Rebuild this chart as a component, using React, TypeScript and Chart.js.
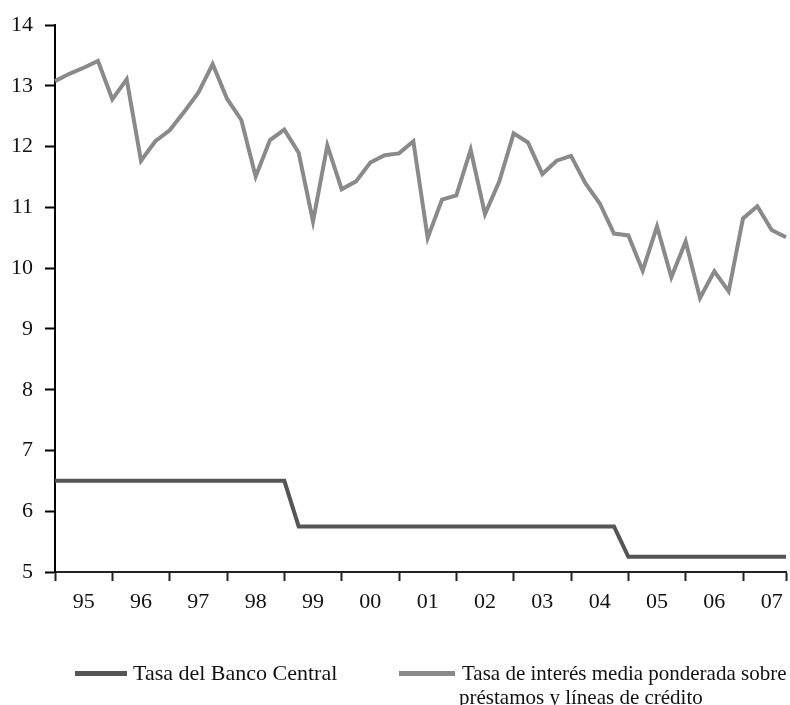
import React, { useEffect, useRef } from "react";
import { Chart, registerables } from "chart.js";

Chart.register(...registerables);

const years: string[] = ["95", "96", "97", "98", "99", "00", "01", "02", "03", "04", "05", "06", "07"];
const quarters: string[] = ["I", "II", "III", "IV"];
const periodLabels: string[] = years.flatMap((y) => quarters.map((q) => `${q}-${y}`));

const bancoCentral: number[] = [
  6.5, 6.5, 6.5, 6.5, 6.5, 6.5, 6.5, 6.5, 6.5, 6.5, 6.5, 6.5, 6.5, 6.5, 6.5, 6.5, 6.5,
  5.75, 5.75, 5.75, 5.75, 5.75, 5.75, 5.75, 5.75, 5.75, 5.75, 5.75, 5.75, 5.75, 5.75, 5.75,
  5.75, 5.75, 5.75, 5.75, 5.75, 5.75, 5.75, 5.75,
  5.25, 5.25, 5.25, 5.25, 5.25, 5.25, 5.25, 5.25, 5.25, 5.25, 5.25, 5.25,
];

const tasaMedia: number[] = [
  13.08, 13.2, 13.3, 13.41, 12.78, 13.11, 11.77, 12.09, 12.27, 12.57, 12.89, 13.36,
  12.79, 12.44, 11.51, 12.11, 12.28, 11.9, 10.77, 12.02, 11.3, 11.43, 11.74, 11.86,
  11.89, 12.09, 10.5, 11.13, 11.2, 11.95, 10.89, 11.43, 12.22, 12.07, 11.55, 11.77,
  11.85, 11.4, 11.07, 10.57, 10.54, 9.96, 10.69, 9.85, 10.44, 9.51, 9.95, 9.62,
  10.82, 11.02, 10.63, 10.51,
];

const legendNames: string[] = [
  "Tasa del Banco Central",
  "Tasa de interés media ponderada sobre",
  "préstamos y líneas de crédito",
];

const DARK = "#555555";
const GRAY = "#8a8a8a";
const FONT = "'Liberation Serif', 'Times New Roman', serif";

export default function App() {
  const canvasRef = useRef<HTMLCanvasElement | null>(null);

  useEffect(() => {
    document.body.style.margin = "0";
    const canvas = canvasRef.current;
    if (!canvas) return;
    const chart = new Chart(canvas, {
      type: "line",
      data: {
        labels: periodLabels,
        datasets: [
          {
            label: legendNames[0],
            data: bancoCentral,
            borderColor: DARK,
            borderWidth: 4,
            pointRadius: 0,
            tension: 0,
            fill: false,
          },
          {
            label: legendNames[1] + " " + legendNames[2],
            data: tasaMedia,
            borderColor: GRAY,
            borderWidth: 4,
            pointRadius: 0,
            tension: 0,
            fill: false,
          },
        ],
      },
      options: {
        animation: false,
        responsive: false,
        maintainAspectRatio: false,
        layout: { padding: { top: 23, right: 0, left: 0, bottom: 0 } },
        plugins: {
          legend: { display: false },
          tooltip: { enabled: false },
        },
        scales: {
          x: {
            type: "category",
            offset: false,
            afterFit: (scale: any) => {
              scale.height = 133;
              scale.paddingRight = 4;
            },
            border: { display: true, color: "#222", width: 2 },
            grid: {
              display: true,
              drawOnChartArea: false,
              drawTicks: true,
              tickLength: 9,
              offset: false,
              tickWidth: 2,
              tickColor: (ctx: any) =>
                ctx.index % 4 === 0 || ctx.index === periodLabels.length - 1 ? "#222" : "rgba(0,0,0,0)",
            },
            ticks: {
              autoSkip: false,
              maxRotation: 0,
              minRotation: 0,
              padding: 8,
              color: "#111",
              font: { family: FONT, size: 22 },
              callback: (_v: any, index: number) =>
                index % 4 === 2 ? years[Math.floor(index / 4)] : "",
            },
          },
          y: {
            min: 5,
            max: 14,
            afterFit: (scale: any) => {
              scale.width = 55;
            },
            border: { display: true, color: "#000", width: 2 },
            grid: {
              display: true,
              drawOnChartArea: false,
              drawTicks: true,
              tickLength: 10,
              tickWidth: 2,
              tickColor: "#000",
            },
            ticks: {
              stepSize: 1,
              padding: 12,
              color: "#111",
              font: { family: FONT, size: 22 },
            },
          },
        },
      },
    });
    return () => chart.destroy();
  }, []);

  const textStyle: React.CSSProperties = {
    position: "absolute",
    fontFamily: FONT,
    fontSize: 22,
    color: "#111",
    whiteSpace: "nowrap",
    lineHeight: "24px",
  };

  return (
    <div style={{ position: "relative", width: 790, height: 705 }}>
      <canvas ref={canvasRef} width={790} height={705} style={{ display: "block" }} />
      <div style={{ position: "absolute", left: 75, top: 671, width: 52, height: 5, background: DARK }} />
      <div style={{ ...textStyle, left: 133, top: 661 }}>{legendNames[0]}</div>
      <div style={{ position: "absolute", left: 399, top: 671, width: 56, height: 5, background: GRAY }} />
      <div style={{ ...textStyle, fontSize: 21, left: 462, top: 661 }}>{legendNames[1]}</div>
      <div style={{ ...textStyle, fontSize: 21, left: 459, top: 685 }}>{legendNames[2]}</div>
    </div>
  );
}
